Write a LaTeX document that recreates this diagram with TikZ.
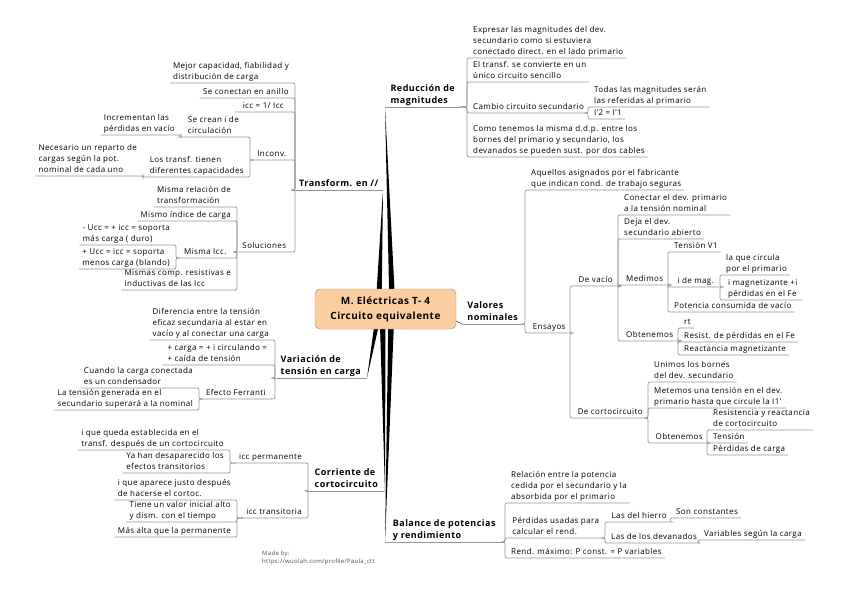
\documentclass[tikz,border=0pt]{standalone}
\usepackage{fontspec}
\setmainfont{Open Sans}[LetterSpace=5]
\usetikzlibrary{positioning}
\definecolor{CtrOrange}{RGB}{250,206,160}
\definecolor{LineGray}{RGB}{150,150,150}

\tikzset{
  topic/.style={font=\fontsize{8}{11}\selectfont, align=left, inner xsep=3pt, inner ysep=1pt, text depth=2pt},
  rtopic/.style={topic, anchor=south west},
  ltopic/.style={topic, anchor=south east},
  main/.style={font=\fontsize{9}{12.5}\selectfont\bfseries, align=left, inner xsep=2pt, inner ysep=1pt, text depth=2pt},
  centre/.style={draw=black!45, fill=CtrOrange, rounded corners=5pt, align=center, font=\fontsize{10}{15}\selectfont\bfseries},
  uline/.style={draw=LineGray, line width=0.7pt},
  conn/.style={uline, rounded corners=2pt},
  tor/.style={to path={-| ([xshift=-3pt]\tikztotarget.south west) -- (\tikztotarget.south west) -- (\tikztotarget.south east)}},
  tol/.style={to path={-| ([xshift=3pt]\tikztotarget.south east) -- (\tikztotarget.south east) -- (\tikztotarget.south west)}},
  branch/.style={fill=black},
  credit/.style={font=\fontsize{6}{8}\selectfont, text=black!70, align=left, inner sep=0pt}
}

\begin{document}
\begin{tikzpicture}[x=1pt, y=-1pt]
\useasboundingbox (0,0) rectangle (848,599);
\coordinate (c0) at (385.5,309);

% main topics
\node [main, anchor=south west, minimum width=75pt] (red) at (385,107) {Reducción de\\magnitudes};
\node [main, anchor=south west, minimum width=61pt] (val) at (462,324) {Valores\\nominales};
\node [main, anchor=south west, minimum width=118pt] (bal) at (385,542) {Balance de potencias\\y rendimiento};
\node [main, anchor=south east, minimum width=88pt] (tra) at (383,190) {Transform. en //};
\node [main, anchor=south east, minimum width=92pt] (var) at (367,378) {Variación de\\tensión en carga};
\node [main, anchor=south east, minimum width=77pt] (cor) at (385,491) {Corriente de\\cortocircuito};

% Reducción de magnitudes
\node [rtopic, minimum width=153pt] (red1) at (470,58) {Expresar las magnitudes del dev.\\secundario como si estuviera\\conectado direct. en el lado primario};
\node [rtopic, minimum width=118pt] (red2) at (470,82) {El transf. se convierte en un\\único circuito sencillo};
\node [rtopic, minimum width=115pt] (red3) at (470,113) {Cambio circuito secundario};
\node [rtopic, minimum width=165pt] (red4) at (470,157) {Como tenemos la misma d.d.p. entre los\\bornes del primario y secundario, los\\devanados se pueden sust. por dos cables};
\node [rtopic, minimum width=112pt] (red31) at (591,107) {Todas las magnitudes serán\\las referidas al primario};
\node [rtopic, minimum width=32pt] (red32) at (591,119) {I'2 = I'1};

% Valores nominales
\node [rtopic, minimum width=149pt] (val1) at (528,190) {Aquellos asignados por el fabricante\\que indican cond. de trabajo seguras};
\node [rtopic, minimum width=42pt] (val2) at (528,333) {Ensayos};
\node [rtopic, minimum width=45pt] (vac) at (573,286) {De vacío};
\node [rtopic, minimum width=74pt] (cc) at (573,418) {De cortocircuito};
\node [rtopic, minimum width=97pt] (vac1) at (621,215) {Conectar el dev. primario\\a la tensión nominal};
\node [rtopic, minimum width=52pt] (vac2) at (621,239) {Deja el dev.\\secundario abierto};
\node [rtopic, minimum width=47pt] (vac3) at (621,285) {Medimos};
\node [rtopic, minimum width=57pt] (vac4) at (621,341) {Obtenemos};
\node [rtopic, minimum width=42pt] (med1) at (671,252) {Tensión V1};
\node [rtopic, minimum width=49pt] (med2) at (671,287) {i de mag.};
\node [rtopic, minimum width=114pt] (med3) at (671,312) {Potencia consumida de vacío};
\node [rtopic, minimum width=60pt] (mag1) at (723,275) {la que circula\\por el primario};
\node [rtopic, minimum width=79pt] (mag2) at (723,300) {i magnetizante +i\\pérdidas en el Fe};
\node [rtopic, minimum width=12pt] (obt1) at (681,328) {rt};
\node [rtopic, minimum width=107pt] (obt2) at (681,342) {Resist. de pérdidas en el Fe};
\node [rtopic, minimum width=104pt] (obt3) at (681,355) {Reactancia magnetizante};
\node [rtopic, minimum width=79pt] (cc1) at (651,382) {Unimos los bornes\\del dev. secundario};
\node [rtopic, minimum width=121pt] (cc2) at (651,408) {Metemos una tensión en el dev.\\primario hasta que circule la I1'};
\node [rtopic, minimum width=56pt] (cc3) at (651,443) {Obtenemos};
\node [rtopic, minimum width=102pt] (ccb1) at (710,430) {Resistencia y reactancia\\de cortocircuito};
\node [rtopic, minimum width=37pt] (ccb2) at (710,443) {Tensión};
\node [rtopic, minimum width=75pt] (ccb3) at (710,455) {Pérdidas de carga};

% Balance de potencias
\node [rtopic, minimum width=119pt] (bal1) at (508,503) {Relación entre la potencia\\cedida por el secundario y la\\absorbida por el primario};
\node [rtopic, minimum width=95pt] (bal2) at (508,538) {Pérdidas usadas para\\calcular el rend.};
\node [rtopic, minimum width=155pt] (bal3) at (508,558) {Rend. máximo: P const. = P variables};
\node [rtopic, minimum width=62pt] (bal21) at (608,522) {Las del hierro};
\node [rtopic, minimum width=90pt] (bal22) at (608,543) {Las de los devanados};
\node [rtopic, minimum width=65pt] (hie) at (673,518) {Son constantes};
\node [rtopic, minimum width=96pt] (dev) at (701,540) {Variables según la carga};

% Transform. en //
\node [ltopic, minimum width=120pt] (tra1) at (292,83) {Mejor capacidad, fiabilidad y\\distribución de carga};
\node [ltopic, minimum width=92pt] (tra2) at (292,98) {Se conectan en anillo};
\node [ltopic, minimum width=57pt] (tra3) at (292,112) {icc = 1/ Icc};
\node [ltopic, minimum width=40pt] (tra4) at (292,160) {Inconv.};
\node [ltopic, minimum width=55pt] (tra5) at (292,252) {Soluciones};
\node [ltopic, minimum width=67pt] (inc1) at (247,137) {Se crean i de\\circulación};
\node [ltopic, minimum width=100pt] (inc2) at (247,177) {Los transf. tienen\\diferentes capacidades};
\node [ltopic, minimum width=71pt] (inc11) at (178,135) {Incrementan las\\pérdidas en vacío};
\node [ltopic, minimum width=103pt] (inc21) at (140,176) {Necesario un reparto de\\cargas según la pot.\\nominal de cada uno};
\node [ltopic, minimum width=79pt] (sol1) at (234,207) {Misma relación de\\transformación};
\node [ltopic, minimum width=92pt] (sol2) at (234,221) {Mismo índice de carga};
\node [ltopic, minimum width=57pt] (sol3) at (234,258) {Misma Icc.};
\node [ltopic, minimum width=109pt] (sol4) at (234,290) {Mismas comp. resistivas e\\inductivas de las Icc};
\node [ltopic, minimum width=93pt] (sol31) at (173,245) {- Ucc = + icc = soporta\\más carga ( duro)};
\node [ltopic, minimum width=91pt] (sol32) at (173,269) {+ Ucc = icc = soporta\\menos carga (blando)};

% Variación de tensión en carga
\node [ltopic, minimum width=122pt] (var1) at (272,340) {Diferencia entre la tensión\\eficaz secundaria al estar en\\vacío y al conectar una carga};
\node [ltopic, minimum width=109pt] (var2) at (272,365) {+ carga = + i circulando =\\+ caída de tensión};
\node [ltopic, minimum width=72pt] (var3) at (272,399) {Efecto Ferranti};
\node [ltopic, minimum width=113pt] (fer1) at (196,388) {Cuando la carga conectada\\es un condensador};
\node [ltopic, minimum width=133pt] (fer2) at (196,410) {La tensión generada en el\\secundario superará a la nominal};

% Corriente de cortocircuito
\node [ltopic, minimum width=67pt] (cor1) at (305,463) {icc permanente};
\node [ltopic, minimum width=60pt] (cor2) at (305,518) {icc transitoria};
\node [ltopic, minimum width=142pt] (per1) at (227,450) {i que queda establecida en el\\transf. después de un cortocircuito};
\node [ltopic, minimum width=100pt] (per2) at (227,473) {Ya han desaparecido los\\efectos transitorios};
\node [ltopic, minimum width=117pt] (trn1) at (234,500) {i que aparece justo después\\de hacerse el cortoc.};
\node [ltopic, minimum width=106pt] (trn2) at (234,522) {Tiene un valor inicial alto\\y dism. con el tiempo};
\node [ltopic, minimum width=114pt] (trn3) at (234,537) {Más alta que la permanente};

\node [credit, anchor=north west] (made) at (262,551) {Made by:\\https://wuolah.com/profile/Paula\_ctt};

% Branches from the centre
\fill [branch] ([xshift=4pt]c0) -- (red.south west) -- ([xshift=10pt]c0) -- cycle;
\fill [branch] ([xshift=-10pt]c0) -- (tra.south east) -- ([xshift=-4pt]c0) -- cycle;
\fill [branch] ([xshift=-9pt]c0) -- (var.south east) -- ([xshift=-3pt]c0) -- cycle;
\fill [branch] ([xshift=-6pt]c0) -- (cor.south east) -- ([xshift=0pt]c0) -- cycle;
\fill [branch] ([xshift=3pt]c0) -- (bal.south west) -- ([xshift=9pt]c0) -- cycle;
\draw [uline] (red.south west) -- (red.south east);
\draw [uline] (val.south west) -- (val.south east);
\draw [uline] (bal.south west) -- (bal.south east);
\draw [uline] (tra.south east) -- (tra.south west);
\draw [uline] (var.south east) -- (var.south west);
\draw [uline] (cor.south east) -- (cor.south west);

\node [centre, minimum width=141pt, minimum height=40pt] (ctr) at (c0) {M. Eléctricas T- 4\\Circuito equivalente};
\draw [black!70, line width=0.6pt] ([yshift=-12pt]ctr.east) -- (val.south west);

% Connectors
\draw [conn] (red.south east) to[tor] (red1);
\draw [conn] (red.south east) to[tor] (red2);
\draw [conn] (red.south east) to[tor] (red3);
\draw [conn] (red.south east) to[tor] (red4);
\draw [conn] (red3.south east) to[tor] (red31);
\draw [conn] (red3.south east) to[tor] (red32);

\draw [conn] (val.south east) to[tor] (val1);
\draw [conn] (val.south east) to[tor] (val2);
\draw [conn] (val2.south east) to[tor] (vac);
\draw [conn] (val2.south east) to[tor] (cc);
\draw [conn] (vac.south east) to[tor] (vac1);
\draw [conn] (vac.south east) to[tor] (vac2);
\draw [conn] (vac.south east) to[tor] (vac3);
\draw [conn] (vac.south east) to[tor] (vac4);
\draw [conn] (vac3.south east) to[tor] (med1);
\draw [conn] (vac3.south east) to[tor] (med2);
\draw [conn] (vac3.south east) to[tor] (med3);
\draw [conn] (med2.south east) to[tor] (mag1);
\draw [conn] (med2.south east) to[tor] (mag2);
\draw [conn] (vac4.south east) to[tor] (obt1);
\draw [conn] (vac4.south east) to[tor] (obt2);
\draw [conn] (vac4.south east) to[tor] (obt3);
\draw [conn] (cc.south east) to[tor] (cc1);
\draw [conn] (cc.south east) to[tor] (cc2);
\draw [conn] (cc.south east) to[tor] (cc3);
\draw [conn] (cc3.south east) to[tor] (ccb1);
\draw [conn] (cc3.south east) to[tor] (ccb2);
\draw [conn] (cc3.south east) to[tor] (ccb3);

\draw [conn] (bal.south east) to[tor] (bal1);
\draw [conn] (bal.south east) to[tor] (bal2);
\draw [conn] (bal.south east) to[tor] (bal3);
\draw [conn] (bal2.south east) to[tor] (bal21);
\draw [conn] (bal2.south east) to[tor] (bal22);
\draw [conn] (bal21.south east) to[tor] (hie);
\draw [conn] (bal22.south east) to[tor] (dev);

\draw [conn] (tra.south west) to[tol] (tra1);
\draw [conn] (tra.south west) to[tol] (tra2);
\draw [conn] (tra.south west) to[tol] (tra3);
\draw [conn] (tra.south west) to[tol] (tra4);
\draw [conn] (tra.south west) to[tol] (tra5);
\draw [conn] (tra4.south west) to[tol] (inc1);
\draw [conn] (tra4.south west) to[tol] (inc2);
\draw [conn] (inc1.south west) to[tol] (inc11);
\draw [conn] (inc2.south west) to[tol] (inc21);
\draw [conn] (tra5.south west) to[tol] (sol1);
\draw [conn] (tra5.south west) to[tol] (sol2);
\draw [conn] (tra5.south west) to[tol] (sol3);
\draw [conn] (tra5.south west) to[tol] (sol4);
\draw [conn] (sol3.south west) to[tol] (sol31);
\draw [conn] (sol3.south west) to[tol] (sol32);

\draw [conn] (var.south west) to[tol] (var1);
\draw [conn] (var.south west) to[tol] (var2);
\draw [conn] (var.south west) to[tol] (var3);
\draw [conn] (var3.south west) to[tol] (fer1);
\draw [conn] (var3.south west) to[tol] (fer2);

\draw [conn] (cor.south west) to[tol] (cor1);
\draw [conn] (cor.south west) to[tol] (cor2);
\draw [conn] (cor1.south west) to[tol] (per1);
\draw [conn] (cor1.south west) to[tol] (per2);
\draw [conn] (cor2.south west) to[tol] (trn1);
\draw [conn] (cor2.south west) to[tol] (trn2);
\draw [conn] (cor2.south west) to[tol] (trn3);
\end{tikzpicture}
\end{document}
